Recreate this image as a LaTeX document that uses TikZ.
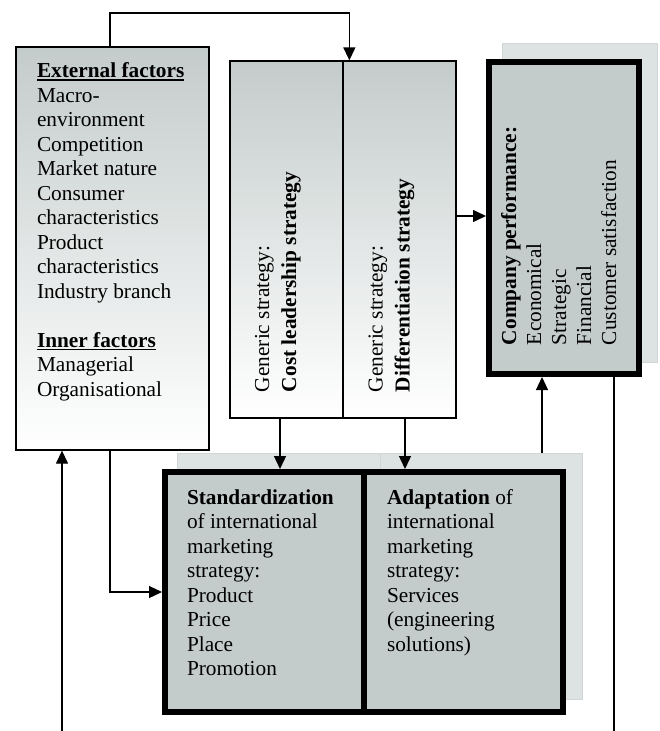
\documentclass[tikz,border=0pt]{standalone}
\usepackage{fontspec}
\setmainfont{Liberation Serif}
\usetikzlibrary{arrows.meta}
\definecolor{boxgrey}{RGB}{196,204,203}
\definecolor{shadowgrey}{RGB}{221,226,226}
\definecolor{shadowedge}{RGB}{208,214,214}
\newcommand{\myul}[1]{\leavevmode\setbox0\hbox{#1}\rlap{\rule[-3pt]{\wd0}{1.5pt}}\box0}
\newcommand{\bodyfont}{\fontsize{21.3}{24.5}\selectfont}
\tikzset{
  gradbox/.style={draw, line width=1.3pt, top color=boxgrey, bottom color=white, inner sep=0pt},
  thickbox/.style={draw, line width=6pt, fill=boxgrey, inner sep=0pt},
  shadowbox/.style={draw=shadowedge, line width=1pt, fill=shadowgrey, inner sep=0pt},
  txt/.style={inner sep=0pt, outer sep=0pt},
  conn/.style={line width=1.3pt, -{Triangle[length=13pt,width=12pt]}},
  plain/.style={line width=1.3pt}
}
\begin{document}
\begin{tikzpicture}[x=1pt,y=-1pt]
\useasboundingbox[fill=white] (0,0) rectangle (659,731);

% shadows
\node[shadowbox, minimum width=155, minimum height=319] (perfsh) at (579.5,202.5) {};
\node[shadowbox, minimum width=203, minimum height=246] (stdsh) at (278.5,576) {};
\node[shadowbox, minimum width=202, minimum height=246] (adpsh) at (481,576) {};

% boxes
\node[gradbox, minimum width=193, minimum height=403] (ext) at (112.5,248.5) {};
\node[gradbox, minimum width=113, minimum height=357] (cost) at (286.5,239.5) {};
\node[gradbox, minimum width=113, minimum height=357] (diff) at (399.5,239.5) {};
\node[thickbox, minimum width=150, minimum height=312] (perf) at (564,218) {};
\node[thickbox, minimum width=198.7, minimum height=240] (std) at (264.35,592) {};
\node[thickbox, minimum width=199.3, minimum height=240] (adp) at (463.35,592) {};

% texts
\node[txt, anchor=base west] (exttext) at (37,77.5) {\parbox[t]{300pt}{\raggedright\bodyfont
\myul{\textbf{External factors}}\\
Macro-\\
environment\\
Competition\\
Market nature\\
Consumer\\
characteristics\\
Product\\
characteristics\\
Industry branch\\[24.5pt]
\myul{\textbf{Inner factors}}\\
Managerial\\
Organisational}};

\node[txt, rotate=90, anchor=base west] (costtext) at (269,392) {\parbox[t]{300pt}{\raggedright\fontsize{21.3}{27}\selectfont
Generic strategy:\\
\textbf{Cost leadership strategy}}};

\node[txt, rotate=90, anchor=base west] (difftext) at (382.5,392) {\parbox[t]{300pt}{\raggedright\fontsize{21.3}{27}\selectfont
Generic strategy:\\
\textbf{Differentiation strategy}}};

\node[txt, rotate=90, anchor=base west] (perftext) at (516,345) {\parbox[t]{300pt}{\raggedright\fontsize{21.3}{25}\selectfont
\textbf{Company performance:}\\
Economical\\
Strategic\\
Financial\\
Customer satisfaction}};

\node[txt, anchor=base west] (stdtext) at (187,504) {\parbox[t]{300pt}{\raggedright\bodyfont
\textbf{Standardization}\\
of international\\
marketing\\
strategy:\\
Product\\
Price\\
Place\\
Promotion}};

\node[txt, anchor=base west] (adptext) at (387,504) {\parbox[t]{300pt}{\raggedright\bodyfont
\textbf{Adaptation} of\\
international\\
marketing\\
strategy:\\
Services\\
(engineering\\
solutions)}};

% connectors
\coordinate (topc) at (200,13);
\coordinate (bot1) at (62,731);
\coordinate (bot2) at (614,731);
\coordinate (a1) at ([xshift=-2.5pt]ext.north);
\coordinate (a1e) at ([xshift=7pt]diff.north west);
\coordinate (a2) at ([xshift=-6.5pt]cost.south);
\coordinate (a3) at ([xshift=5.5pt]diff.south);
\coordinate (a4) at ([yshift=23.5pt]diff.east);
\coordinate (a5) at ([xshift=-22pt]perf.south);
\coordinate (a8) at ([xshift=-2.5pt]ext.south);

\draw[conn] (a1) |- (topc) -| (a1e);
\draw[conn] (a2) -- (a2 |- std.north);
\draw[conn] (a3) -- (a3 |- adp.north);
\draw[conn] (a4) -- (a4 -| perf.west);
\draw[conn] (a5 |- adpsh.north) -- (a5);
\draw[plain] (perf.south -| bot2) -- (bot2);
\draw[conn] (bot1) -- (bot1 |- ext.south);
\draw[conn] (a8) |- (std.west);
\end{tikzpicture}
\end{document}
